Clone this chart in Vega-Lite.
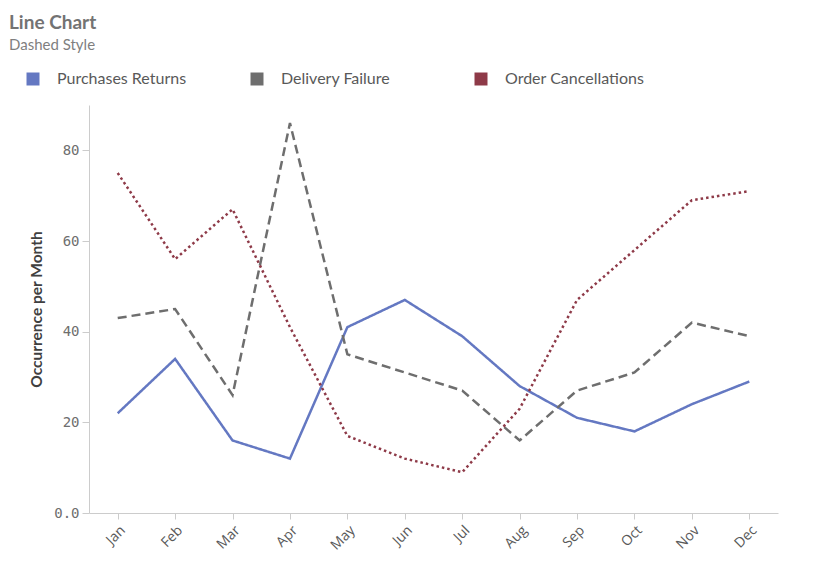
{
  "$schema": "https://vega.github.io/schema/vega-lite/v6.json",
  "autosize": {"type": "none"},
  "padding": {"left": 89, "top": 105, "right": 42, "bottom": 69},
  "width": 689,
  "height": 408,
  "background": "white",
  "title": {
    "text": "Line Chart",
    "subtitle": "Dashed Style",
    "anchor": "start",
    "frame": "group",
    "dx": -80,
    "offset": 18,
    "font": "Lato",
    "fontSize": 19,
    "fontWeight": "bold",
    "color": "#737373",
    "subtitleFont": "Lato",
    "subtitleFontSize": 15,
    "subtitleColor": "#7f7f7f",
    "subtitlePadding": 5
  },
  "data": {
    "values": [
      {"month": "Jan", "series": "Purchases Returns", "value": 22},
      {"month": "Feb", "series": "Purchases Returns", "value": 34},
      {"month": "Mar", "series": "Purchases Returns", "value": 16},
      {"month": "Apr", "series": "Purchases Returns", "value": 12},
      {"month": "May", "series": "Purchases Returns", "value": 41},
      {"month": "Jun", "series": "Purchases Returns", "value": 47},
      {"month": "Jul", "series": "Purchases Returns", "value": 39},
      {"month": "Aug", "series": "Purchases Returns", "value": 28},
      {"month": "Sep", "series": "Purchases Returns", "value": 21},
      {"month": "Oct", "series": "Purchases Returns", "value": 18},
      {"month": "Nov", "series": "Purchases Returns", "value": 24},
      {"month": "Dec", "series": "Purchases Returns", "value": 29},
      {"month": "Jan", "series": "Delivery Failure", "value": 43},
      {"month": "Feb", "series": "Delivery Failure", "value": 45},
      {"month": "Mar", "series": "Delivery Failure", "value": 26},
      {"month": "Apr", "series": "Delivery Failure", "value": 86},
      {"month": "May", "series": "Delivery Failure", "value": 35},
      {"month": "Jun", "series": "Delivery Failure", "value": 31},
      {"month": "Jul", "series": "Delivery Failure", "value": 27},
      {"month": "Aug", "series": "Delivery Failure", "value": 16},
      {"month": "Sep", "series": "Delivery Failure", "value": 27},
      {"month": "Oct", "series": "Delivery Failure", "value": 31},
      {"month": "Nov", "series": "Delivery Failure", "value": 42},
      {"month": "Dec", "series": "Delivery Failure", "value": 39},
      {"month": "Jan", "series": "Order Cancellations", "value": 75},
      {"month": "Feb", "series": "Order Cancellations", "value": 56},
      {"month": "Mar", "series": "Order Cancellations", "value": 67},
      {"month": "Apr", "series": "Order Cancellations", "value": 41},
      {"month": "May", "series": "Order Cancellations", "value": 17},
      {"month": "Jun", "series": "Order Cancellations", "value": 12},
      {"month": "Jul", "series": "Order Cancellations", "value": 9},
      {"month": "Aug", "series": "Order Cancellations", "value": 23},
      {"month": "Sep", "series": "Order Cancellations", "value": 47},
      {"month": "Oct", "series": "Order Cancellations", "value": 58},
      {"month": "Nov", "series": "Order Cancellations", "value": 69},
      {"month": "Dec", "series": "Order Cancellations", "value": 71}
    ]
  },
  "mark": {"type": "line", "strokeWidth": 2.5},
  "encoding": {
    "x": {
      "field": "month",
      "type": "ordinal",
      "sort": ["Jan", "Feb", "Mar", "Apr", "May", "Jun", "Jul", "Aug", "Sep", "Oct", "Nov", "Dec"],
      "scale": {"type": "point", "padding": 0.5},
      "axis": {
        "title": null,
        "labelAngle": -45,
        "labelFont": "Open Sans",
        "labelFontSize": 14,
        "labelColor": "#595959",
        "labelPadding": 4,
        "tickSize": 6,
        "tickColor": "#cccccc",
        "domainColor": "#cccccc",
        "grid": false
      }
    },
    "y": {
      "field": "value",
      "type": "quantitative",
      "scale": {"domain": [0, 90], "nice": false},
      "axis": {
        "title": "Occurrence per Month",
        "titleFont": "Lato",
        "titleFontSize": 15.5,
        "titleFontWeight": "bold",
        "titleColor": "#404040",
        "titlePadding": 9,
        "values": [0, 20, 40, 60, 80],
        "labelExpr": "datum.value == 0 ? '0.0' : datum.label",
        "labelFont": "DejaVu Sans Mono",
        "labelFontSize": 14,
        "labelColor": "#6e6e6e",
        "labelPadding": 3,
        "tickSize": 7,
        "tickColor": "#cccccc",
        "domainColor": "#cccccc",
        "grid": false
      }
    },
    "color": {
      "field": "series",
      "type": "nominal",
      "scale": {
        "domain": ["Purchases Returns", "Delivery Failure", "Order Cancellations"],
        "range": ["#6478c2", "#6e6e6e", "#8e3a48"]
      },
      "legend": {
        "title": null,
        "orient": "none",
        "legendX": -64,
        "legendY": -34,
        "direction": "horizontal",
        "columns": 3,
        "gridAlign": "all",
        "columnPadding": 52,
        "symbolType": "square",
        "symbolSize": 169,
        "symbolStrokeWidth": 0,
        "labelOffset": 16,
        "labelFont": "Lato",
        "labelFontSize": 16,
        "labelColor": "#595959",
        "encode": {
          "symbols": {
            "update": {
              "fill": {"scale": "color", "field": "value"},
              "stroke": {"value": "transparent"},
              "opacity": {"value": 1}
            }
          }
        }
      }
    },
    "strokeDash": {
      "field": "series",
      "type": "nominal",
      "scale": {
        "domain": ["Purchases Returns", "Delivery Failure", "Order Cancellations"],
        "range": [[1, 0], [9, 5], [2.5, 3]]
      },
      "legend": null
    }
  },
  "config": {"view": {"stroke": null}}
}
